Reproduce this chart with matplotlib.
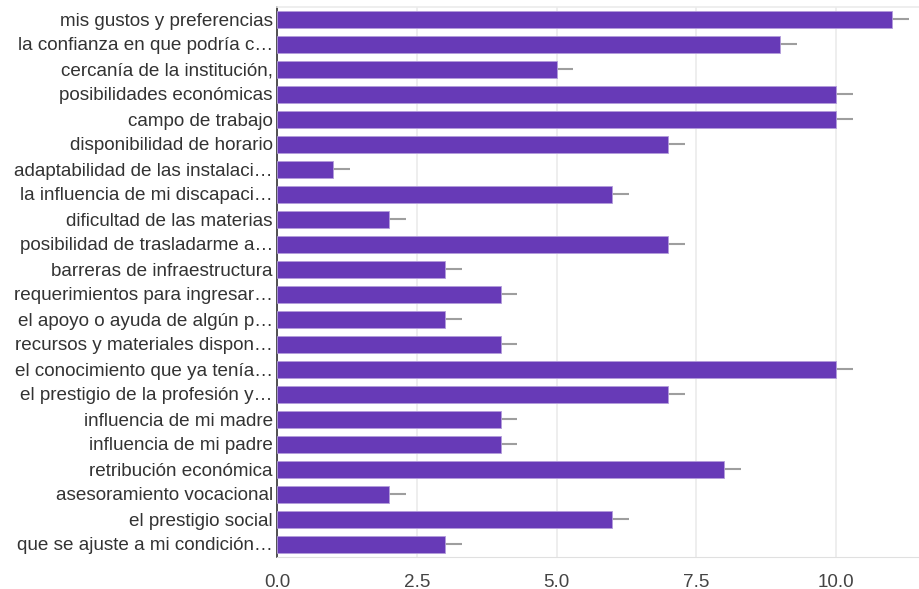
import matplotlib
matplotlib.use("Agg")
import matplotlib.pyplot as plt
import numpy as np

categories = [
    "mis gustos y preferencias",
    "la confianza en que podría c…",
    "cercanía de la institución,",
    "posibilidades económicas",
    "campo de trabajo",
    "disponibilidad de horario",
    "adaptabilidad de las instalaci…",
    "la influencia de mi discapaci…",
    "dificultad de las materias",
    "posibilidad de trasladarme a…",
    "barreras de infraestructura",
    "requerimientos para ingresar…",
    "el apoyo o ayuda de algún p…",
    "recursos y materiales dispon…",
    "el conocimiento que ya tenía…",
    "el prestigio de la profesión y…",
    "influencia de mi madre",
    "influencia de mi padre",
    "retribución económica",
    "asesoramiento vocacional",
    "el prestigio social",
    "que se ajuste a mi condición…",
]
values = [11, 9, 5, 10, 10, 7, 1, 6, 2, 7, 3, 4, 3, 4, 10, 7, 4, 4, 8, 2, 6, 3]
errors = [0.3] * len(values)
xticks = [0.0, 2.5, 5.0, 7.5, 10.0]

plt.rcParams['font.family'] = ['Liberation Sans', 'DejaVu Sans']

fig = plt.figure(figsize=(9.2, 5.89), dpi=100)
ax = fig.add_axes([277/920, 32/589, (920-277)/920, (582-32)/589])

y = np.arange(len(categories))
for yi, v, e in zip(y, values, errors):
    ax.plot([v - e, v + e], [yi, yi], color='#9e9e9e', lw=1.5, zorder=2, solid_capstyle='butt')
ax.barh(y, values, height=0.68, color='#673AB7', edgecolor='#b39ddb', linewidth=0.6, zorder=3)

ax.set_ylim(len(categories) - 0.48, -0.48)
ax.set_xlim(0, 11.5)
ax.set_yticks(y)
ax.set_yticklabels(categories, fontsize=13.6, color='#333333')
ax.set_xticks(xticks)
ax.set_xticklabels([f"{t:.1f}" for t in xticks], fontsize=13.6, color='#444444')
ax.tick_params(axis='y', length=0, pad=3)
ax.tick_params(axis='x', length=0, pad=12)
ax.grid(axis='x', color='#ebebeb', lw=1.2, zorder=0)
ax.spines['right'].set_visible(False)
ax.spines['top'].set_color('#ebebeb')
ax.spines['top'].set_linewidth(1.2)
ax.spines['bottom'].set_color('#e0e0e0')
ax.spines['left'].set_color('#333333')
ax.spines['left'].set_linewidth(1.2)

fig.savefig("out.png", dpi=100)
